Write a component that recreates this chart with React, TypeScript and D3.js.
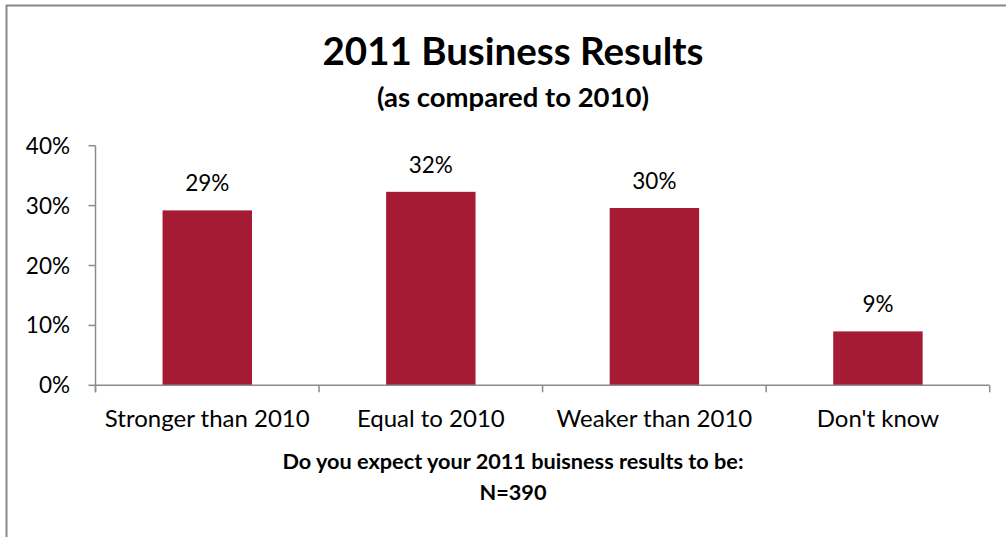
import React from "react";
import * as d3 from "d3";

const categories = ["Stronger than 2010", "Equal to 2010", "Weaker than 2010", "Don't know"];
const values = [0.292, 0.323, 0.296, 0.09];
const yTicks = [0, 0.1, 0.2, 0.3, 0.4];
const title = "2011 Business Results";
const subtitle = "(as compared to 2010)";
const axisTitle = "Do you expect your 2011 buisness results to be:";
const axisSubTitle = "N=390";

const W = 1006;
const H = 537;
const FONT = "Lato, 'Open Sans', sans-serif";
const AXIS = "#8c8c8c";
const BAR = "#A61B34";

export default function App() {
  const left = 95.5;
  const right = 989.7;
  const x = d3.scaleBand<string>().domain(categories).range([left, right]).paddingInner(0.6).paddingOuter(0.3);
  const y = d3.scaleLinear().domain([0, 0.4]).range([385.3, 145.7]);
  const step = x.step();
  const fmt = d3.format(".0%");
  const cx = 513;

  return (
    <div style={{ position: "absolute", left: 0, top: 0, width: W, height: H, background: "#fff" }}>
      <svg width={W} height={H} style={{ display: "block", fontFamily: FONT }}>
        <rect x={0} y={0} width={W} height={H} fill="#fff" />
        {/* frame */}
        <path d={`M6.5,${H + 2} V5.5 H${W + 2}`} fill="none" stroke="#888" strokeWidth={2} />

        <text x={cx} y={65} textAnchor="middle" fontWeight="bold" fontSize={38.5} fill="#000">{title}</text>
        <text x={cx} y={107} textAnchor="middle" fontWeight="bold" fontSize={27.5} fill="#000">{subtitle}</text>

        {/* y axis */}
        <line x1={left} x2={left} y1={y(0.4)} y2={y(0) + 7} stroke={AXIS} strokeWidth={1.5} />
        {yTicks.map((t) => (
          <g key={t}>
            <line x1={left - 7} x2={left} y1={y(t)} y2={y(t)} stroke={AXIS} strokeWidth={1.5} />
            <text x={70} y={y(t) + 8} textAnchor="end" fontSize={22.5} fill="#000">{fmt(t)}</text>
          </g>
        ))}

        {/* bars */}
        {categories.map((c, i) => (
          <g key={c}>
            <rect x={x(c)} y={y(values[i])} width={x.bandwidth()} height={y(0) - y(values[i])} fill={BAR} />
            <text x={(x(c) as number) + x.bandwidth() / 2} y={y(values[i]) - 19} textAnchor="middle" fontSize={22.5} fill="#000">
              {fmt(values[i])}
            </text>
          </g>
        ))}

        {/* x axis */}
        <line x1={left} x2={right} y1={y(0)} y2={y(0)} stroke={AXIS} strokeWidth={1.5} />
        {d3.range(categories.length + 1).map((i) => (
          <line key={i} x1={left + i * step} x2={left + i * step} y1={y(0)} y2={y(0) + 7} stroke={AXIS} strokeWidth={1.5} />
        ))}
        {categories.map((c) => (
          <text key={c} x={(x(c) as number) + x.bandwidth() / 2} y={427} textAnchor="middle" fontSize={24} fill="#000">{c}</text>
        ))}

        <text x={cx} y={469} textAnchor="middle" fontWeight="bold" fontSize={21.7} fill="#000">{axisTitle}</text>
        <text x={cx} y={500} textAnchor="middle" fontWeight="bold" fontSize={21.7} fill="#000">{axisSubTitle}</text>
      </svg>
    </div>
  );
}
